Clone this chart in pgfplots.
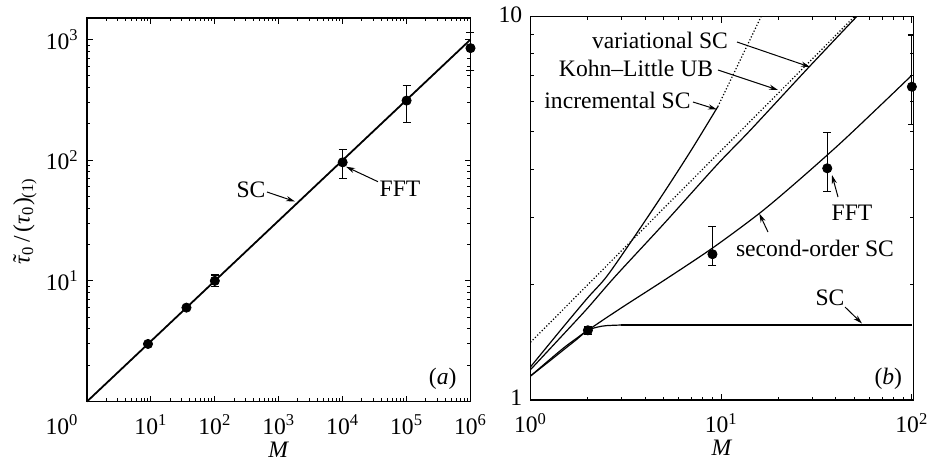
\documentclass[12pt,border=0pt]{standalone}
\usepackage{fontspec}
\setmainfont{Liberation Serif}
\usepackage{pgfplots}
\pgfplotsset{compat=1.18}
\usetikzlibrary{arrows.meta}
\newcommand{\ttau}{{\itshape\ooalign{τ\cr\hidewidth\hspace{0.12em}\raisebox{0.02em}{\upshape\char"02DC}\hidewidth\cr}}}
\begin{document}
\fontsize{11.8pt}{14pt}\selectfont
\begin{tikzpicture}
\path[use as bounding box] (0,0) rectangle (466pt,-231.5pt);
% ---------------- panel (a)
\begin{axis}[xmode=log, ymode=log, scale only axis, anchor=south west,
  axis line style={line width=0.9pt},
  every tick/.style={black, line width=0.5pt},
  major tick length=3pt, minor tick length=1.6pt,
  clip=false,
  at={(43.5pt,-200.75pt)}, width=191.75pt, height=191.6pt,
  xmin=1, xmax=1e6, ymin=1, ymax=1500,
  xtick={1,10,100,1000,1e4,1e5,1e6},
  xticklabels={\makebox[0pt][r]{10\textsuperscript{0}\hspace{4.3pt}},10\textsuperscript{1},10\textsuperscript{2},10\textsuperscript{3},10\textsuperscript{4},10\textsuperscript{5},10\textsuperscript{6}},
  xticklabel style={yshift=-2.5pt},
  minor xtick={2,3,4,5,6,7,8,9,20,30,40,50,60,70,80,90,200,300,400,500,600,700,800,900,2000,3000,4000,5000,6000,7000,8000,9000,2e4,3e4,4e4,5e4,6e4,7e4,8e4,9e4,2e5,3e5,4e5,5e5,6e5,7e5,8e5,9e5},
  ytick={10,100,1000},
  yticklabels={10\textsuperscript{1},10\textsuperscript{2},10\textsuperscript{3}},
  minor ytick={2,3,4,5,6,7,8,9,20,30,40,50,60,70,80,90,200,300,400,500,600,700,800,900},
  xlabel={\textit{M}}, xlabel style={at={(axis description cs:0.5,-0.127)}, anchor=center, inner sep=0pt},
]
\addplot[black, line width=0.9pt] coordinates {(1,1) (1e6,1000)};
\addplot[black, only marks, mark=*, mark size=2.3pt,
    error bars/y dir=both, error bars/y explicit,
    error bars/error bar style={line width=0.6pt},
    error bars/error mark options={rotate=90, mark size=2pt, line width=0.6pt}] coordinates {
 (9,3) += (0,0) -= (0,0)
 (36,6) += (0,0) -= (0,0)
 (100,10) += (0,1.2) -= (0,1.0)
 (1e4,96) += (0,26) -= (0,25)
 (1e5,312) += (0,103) -= (0,106)
 (1e6,849) += (0,294) -= (0,296)
};
\end{axis}
% ---------------- panel (b)
\begin{axis}[xmode=log, ymode=log, scale only axis, anchor=south west,
  axis line style={line width=0.9pt},
  every tick/.style={black, line width=0.5pt},
  major tick length=3pt, minor tick length=1.6pt,
  at={(265.25pt,-200pt)}, width=191.5pt, height=191.75pt,
  xmin=1, xmax=102, ymin=1, ymax=10,
  xtick={1,10,100},
  xticklabels={10\textsuperscript{0},10\textsuperscript{1},10\textsuperscript{2}},
  xticklabel style={yshift=-2.5pt},
  minor xtick={2,3,4,5,6,7,8,9,20,30,40,50,60,70,80,90},
  ytick={1,10},
  yticklabels={\raisebox{2.5pt}{1},\raisebox{1.75pt}{10}},
  minor ytick={2,3,4,5,6,7,8,9},
  xlabel={\textit{M}}, xlabel style={at={(axis description cs:0.5,-0.125)}, anchor=center, inner sep=0pt},
]
% Kohn-Little upper bound (dotted)
\addplot[black, line width=0.6pt, densely dotted] coordinates {(1,1.414) (50,10)};
% variational SC
\addplot[black, line width=0.6pt, smooth] coordinates {(1,1.20) (1.5,1.49) (2,1.74) (2.78,2.10) (5,2.88) (9.48,4.10) (14.2,5.05) (28.7,7.36) (51.4,10)};
% incremental SC (solid then dotted)
\addplot[black, line width=0.6pt, smooth] coordinates {(1,1.22) (1.5,1.56) (2,1.85) (2.51,2.10) (3.46,2.64) (5,3.47) (7,4.5) (9.6,5.82)};
\addplot[black, line width=0.6pt, densely dotted] coordinates {(9.6,5.82) (16.2,10)};
% second-order SC
\addplot[black, line width=0.6pt, smooth] coordinates {(1,1.155) (1.25,1.26) (1.5,1.355) (1.75,1.44) (2,1.52) (3,1.74) (5.08,2.06) (9,2.49) (15.9,3.07) (25,3.71) (42.1,4.67) (70,5.93) (100,7.03)};
% SC
\addplot[black, line width=0.6pt, smooth] coordinates {(1,1.155) (1.25,1.27) (1.5,1.37) (1.75,1.45) (2,1.52) (2.25,1.55) (2.5,1.563) (3,1.569)};
\addplot[black, line width=0.6pt] coordinates {(3,1.569) (100,1.569)};
% FFT
\addplot[black, only marks, mark=*, mark size=2.3pt,
    error bars/y dir=both, error bars/y explicit,
    error bars/error bar style={line width=0.6pt},
    error bars/error mark options={rotate=90, mark size=2pt, line width=0.6pt}] coordinates {
 (2,1.52) += (0,0.035) -= (0,0.035)
 (9,2.40) += (0,0.43) -= (0,0.16)
 (36,4.02) += (0,0.97) -= (0,0.53)
 (100,6.56) += (0,2.39) -= (0,1.32)
};
\end{axis}
% ---------------- annotations (pixel coordinates)
\begin{scope}[x=0.5pt, y=-0.5pt]
\tikzset{arr/.style={-{Stealth[length=4.5pt,width=2.6pt]}, line width=0.5pt}}
\node[rotate=90, inner sep=0pt] at (25,221) {\ttau\textsubscript{0}\,/\,(\textit{τ}\textsubscript{0})\textsubscript{(1)}};
\node[inner sep=0pt] at (251,190) {SC};
\draw[arr] (267,192) -- (295,201.5);
\node[inner sep=0pt] at (400,189) {FFT};
\draw[arr] (378,181.7) -- (346,166.7);
\node[inner sep=0pt] at (442.7,378.5) {(\textit{a})};
\node[inner sep=0pt] at (660,40) {variational SC};
\draw[arr] (737,42) -- (810,67);
\node[inner sep=0pt] at (636,68) {Kohn--Little UB};
\draw[arr] (718,70) -- (778,90);
\node[inner sep=0pt] at (617.5,100.5) {incremental SC};
\draw[arr] (693,102) -- (717,109.5);
\node[inner sep=0pt] at (852,212.5) {FFT};
\draw[arr] (838,197) -- (832,175);
\node[inner sep=0pt] at (815,248) {second-order SC};
\draw[arr] (768,232) -- (759.3,213.5);
\node[inner sep=0pt] at (830,298) {SC};
\draw[arr] (845,307) -- (862,323.5);
\node[inner sep=0pt] at (888.3,378.5) {(\textit{b})};
\end{scope}
\end{tikzpicture}
\end{document}
